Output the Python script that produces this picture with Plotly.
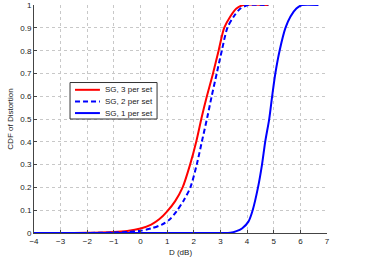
import plotly.graph_objects as go

# ---- data ----
red_x = [-2.5, -2.0, -1.5, -1.0, -0.5, 0.0, 0.4, 0.7, 1.0, 1.3, 1.58, 1.86, 2.09, 2.3, 2.49, 2.72, 2.93, 3.14, 3.37, 3.6, 3.85, 4.8]
red_y = [0, 0.001, 0.002, 0.004, 0.009, 0.02, 0.037, 0.06, 0.095, 0.14, 0.2, 0.3, 0.4, 0.51, 0.6, 0.7, 0.8, 0.9, 0.95, 0.985, 1.0, 1.0]

dash_x = [-2.5, -1.5, -1.0, -0.5, 0.0, 0.4, 0.8, 1.1, 1.35, 1.63, 1.87, 2.11, 2.3, 2.51, 2.67, 2.86, 3.05, 3.26, 3.5, 3.75, 4.05, 4.8]
dash_y = [0, 0.001, 0.002, 0.005, 0.01, 0.02, 0.037, 0.06, 0.095, 0.145, 0.2, 0.3, 0.4, 0.51, 0.6, 0.7, 0.8, 0.9, 0.95, 0.985, 1.0, 1.0]

one_x = [-4.0, 3.0, 3.37, 3.6, 3.81, 4.05, 4.21, 4.41, 4.56, 4.68, 4.83, 4.94, 5.06, 5.22, 5.44, 5.63, 5.85, 6.06, 6.68]
one_y = [0, 0, 0.001, 0.008, 0.02, 0.05, 0.1, 0.2, 0.3, 0.4, 0.5, 0.6, 0.7, 0.8, 0.9, 0.95, 0.985, 1.0, 1.0]

names = ["SG, 3 per set", "SG, 2 per set", "SG, 1 per set"]
colors = ["#ff0000", "#0000ff", "#0000ff"]
dashes = ["solid", "5px,3px", "solid"]
x_ticks = list(range(-4, 8))
y_ticks = [i / 10 for i in range(11)]
y_tick_text = ["0"] + [f"{v:.1f}" for v in y_ticks[1:-1]] + ["1"]

FONT = "Liberation Sans, Arial, sans-serif"

fig = go.Figure()
for xs, ys, nm, c, d in zip([red_x, dash_x, one_x], [red_y, dash_y, one_y], names, colors, dashes):
    fig.add_trace(go.Scatter(x=xs, y=ys, mode="lines", name=nm, showlegend=False, hoverinfo="skip",
                             line=dict(color=c, width=2, dash=d, shape="spline", smoothing=0.8)))

axis_common = dict(
    showline=True, linecolor="#444444", linewidth=1,
    ticks="inside", ticklen=3, tickcolor="#444444",
    showgrid=True, gridcolor="#c8c8c8", griddash="dot", gridwidth=1,
    zeroline=False, tickfont=dict(family=FONT, size=8, color="#222222"),
    mirror=False, automargin=False, ticklabeloverflow="allow",
)

# manual legend (paper coordinates), compact rows like the reference
leg_x0, leg_x1 = 0.123, 0.42
leg_y0, leg_y1 = 0.500, 0.660
row_y = [0.628, 0.577, 0.526]
shapes = [dict(type="rect", xref="paper", yref="paper", x0=leg_x0, x1=leg_x1, y0=leg_y0, y1=leg_y1,
               line=dict(color="#333333", width=1), fillcolor="white", layer="above")]
annotations = []
for ry, nm, c, d in zip(row_y, names, colors, dashes):
    shapes.append(dict(type="line", xref="paper", yref="paper", x0=0.140, x1=0.225, y0=ry, y1=ry,
                       line=dict(color=c, width=2, dash=d), layer="above"))
    annotations.append(dict(xref="paper", yref="paper", x=0.236, y=ry, text=nm, showarrow=False,
                            xanchor="left", yanchor="middle",
                            font=dict(family=FONT, size=8, color="#222222")))

fig.update_layout(
    width=385, height=275,
    margin=dict(l=34, r=58, t=5, b=42),
    paper_bgcolor="white", plot_bgcolor="white",
    font=dict(family=FONT, size=8, color="#222222"),
    showlegend=False,
    shapes=shapes, annotations=annotations,
    xaxis=dict(range=[-4, 7], tickvals=x_ticks,
               title=dict(text="D (dB)", standoff=4, font=dict(family=FONT, size=8)),
               **axis_common),
    yaxis=dict(range=[0, 1.0005], tickvals=y_ticks, ticktext=y_tick_text,
               title=dict(text="CDF of Distortion", standoff=5, font=dict(family=FONT, size=8)),
               **axis_common),
)

fig.write_html("out.html", config={"displayModeBar": False},
               post_script="document.body.style.margin='0';")
